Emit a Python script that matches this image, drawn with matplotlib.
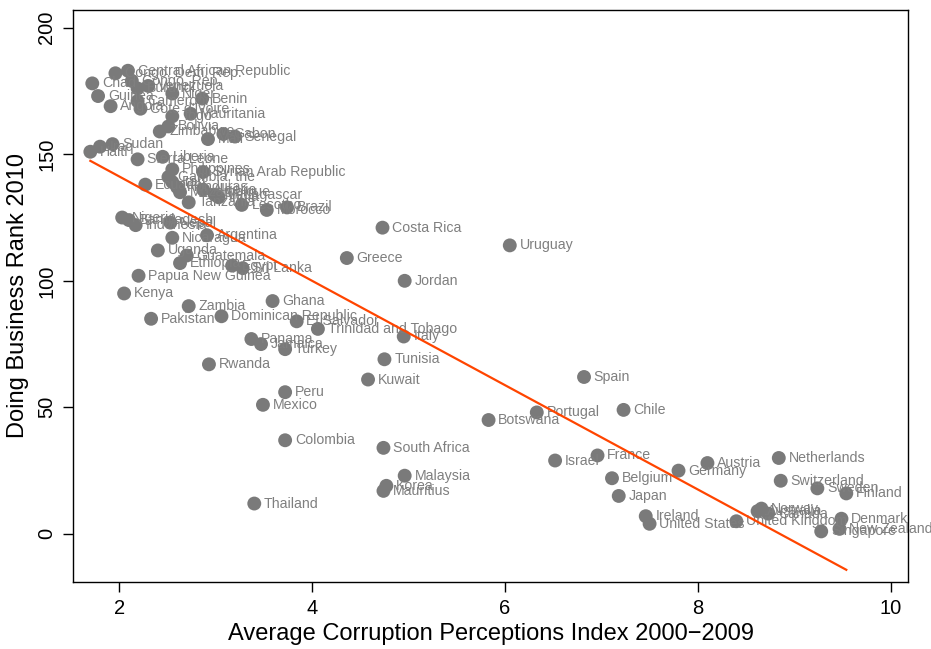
import matplotlib
matplotlib.use("Agg")
import matplotlib.pyplot as plt
import numpy as np

countries = [
    "Congo, Dem. Rep.", "Central African Republic", "Chad", "Congo, Rep.", "Burundi",
    "Venezuela", "Guinea", "Angola", "Cameroon", "Cote d'Ivoire", "Niger", "Benin",
    "Togo", "Mauritania", "Bolivia", "Zimbabwe", "Mali", "Gabon", "Senegal",
    "Haiti", "Iraq", "Sudan", "Sierra Leone", "Liberia",
    "Philippines", "Syrian Arab Republic", "Gambia, the", "Ecuador", "Iran", "Honduras",
    "Mozambique", "Algeria", "Madagascar", "India", "Tanzania", "Lesotho", "Brazil",
    "Morocco", "Nigeria", "Bangladesh", "Nepal", "Indonesia", "Nicaragua", "Argentina",
    "Uganda", "Guatemala", "Ethiopia", "Egypt", "Sri Lanka", "Papua New Guinea",
    "Kenya", "Zambia", "Pakistan", "Dominican Republic", "Ghana", "El Salvador",
    "Trinidad and Tobago", "Panama", "Jamaica", "Turkey", "Rwanda", "Peru", "Mexico",
    "Colombia", "Thailand", "South Africa", "Malaysia", "Korea", "Mauritius",
    "Kuwait", "Tunisia", "Italy", "Jordan", "Greece", "Costa Rica", "Uruguay",
    "Botswana", "Portugal", "Spain", "Chile", "Israel", "France", "Belgium", "Japan",
    "Germany", "Austria", "Netherlands", "Switzerland", "Sweden", "Finland",
    "Ireland", "United States", "United Kingdom", "Norway", "Australia", "Canada",
    "Denmark", "New Zealand", "Singapore",
]
cpi_avg = [
    1.96, 2.09, 1.72, 2.13, 2.19,
    2.30, 1.78, 1.91, 2.19, 2.22, 2.55, 2.86,
    2.55, 2.74, 2.51, 2.42, 2.92, 3.08, 3.20,
    1.70, 1.80, 1.93, 2.19, 2.45,
    2.55, 2.87, 2.51, 2.27, 2.55, 2.60,
    2.63, 2.87, 2.99, 3.03, 2.72, 3.27, 3.74,
    3.53, 2.03, 2.10, 2.53, 2.17, 2.55, 2.91,
    2.40, 2.70, 2.63, 3.17, 3.28, 2.20,
    2.05, 2.72, 2.33, 3.06, 3.59, 3.84,
    4.06, 3.37, 3.47, 3.72, 2.93, 3.72, 3.49,
    3.72, 3.40, 4.74, 4.96, 4.77, 4.74,
    4.58, 4.75, 4.95, 4.96, 4.36, 4.73, 6.05,
    5.83, 6.33, 6.82, 7.23, 6.52, 6.96, 7.11, 7.18,
    7.80, 8.10, 8.84, 8.86, 9.24, 9.54,
    7.46, 7.50, 8.40, 8.66, 8.62, 8.73,
    9.49, 9.47, 9.28,
]
db_rank = [
    182, 183, 178, 179, 176,
    177, 173, 169, 171, 168, 174, 172,
    165, 166, 161, 159, 156, 158, 157,
    151, 153, 154, 148, 149,
    144, 143, 141, 138, 139, 137,
    135, 136, 134, 133, 131, 130, 129,
    128, 125, 124, 123, 122, 117, 118,
    112, 110, 107, 106, 105, 102,
    95, 90, 85, 86, 92, 84,
    81, 77, 75, 73, 67, 56, 51,
    37, 12, 34, 23, 19, 17,
    61, 69, 78, 100, 109, 121, 114,
    45, 48, 62, 49, 29, 31, 22, 15,
    25, 28, 30, 21, 18, 16,
    7, 4, 5, 10, 9, 8,
    6, 2, 1,
]

plt.rcParams['font.family'] = ['Liberation Sans', 'DejaVu Sans']

fig = plt.figure(figsize=(9.31, 6.49), dpi=100)
ax = fig.add_axes([73/931, 1 - 582/649, (908-73)/931, (582-10)/649])

x = np.array(cpi_avg)
y = np.array(db_rank)

ax.scatter(x, y, s=100, color='#7a7a7a', edgecolors='none', zorder=2)
for name, xi, yi in zip(countries, x, y):
    ax.annotate(name, (xi, yi), xytext=(7, 0), textcoords='offset points',
                ha='left', va='center', fontsize=10.2, color='#7f7f7f', zorder=3)

slope, intercept = np.polyfit(x, y, 1)
xs = np.array([x.min(), x.max()])
ax.plot(xs, intercept + slope * xs, color='#FF4500', lw=1.6, zorder=4)

ax.set_xlim(1.52, 10.18)
ax.set_ylim(-19, 207)
ax.set_xticks([2, 4, 6, 8, 10])
ax.set_yticks([0, 50, 100, 150, 200])
ax.tick_params(direction='out', length=7, width=1, labelsize=14.5, pad=5)
for lbl in ax.get_yticklabels():
    lbl.set_rotation(90)
    lbl.set_va('center')
for s in ax.spines.values():
    s.set_linewidth(1)
ax.set_xlabel("Average Corruption Perceptions Index 2000\u22122009", fontsize=17, labelpad=4)
ax.set_ylabel("Doing Business Rank 2010", fontsize=17, labelpad=6)

fig.savefig("out.png", dpi=100)
